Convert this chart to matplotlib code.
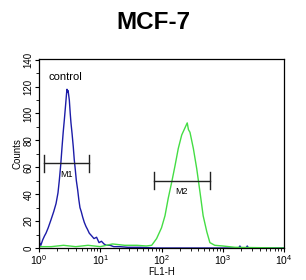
import numpy as np
import matplotlib
matplotlib.use("Agg")
import matplotlib.pyplot as plt
from matplotlib.ticker import LogLocator, MultipleLocator, FixedLocator

plt.rcParams['font.family'] = ['Liberation Sans', 'DejaVu Sans']
plt.rcParams['mathtext.fontset'] = 'custom'
plt.rcParams['mathtext.rm'] = 'Liberation Sans'
plt.rcParams['mathtext.it'] = 'Liberation Sans'

# control (blue) histogram: log10(FL1-H) vs counts
blue_log = [0.0, 0.01, 0.03, 0.06, 0.09, 0.114, 0.15, 0.196, 0.24, 0.278, 0.31, 0.331,
            0.355, 0.376, 0.395, 0.413, 0.43, 0.441, 0.45, 0.457, 0.465, 0.475, 0.495,
            0.51, 0.522, 0.54, 0.56, 0.575, 0.593, 0.61, 0.632, 0.65, 0.669, 0.69, 0.713,
            0.74, 0.767, 0.79, 0.821, 0.86, 0.898, 0.94, 0.98, 1.02, 1.061, 1.1, 1.16,
            1.22, 1.32, 1.45, 1.65, 1.9, 2.2, 2.6, 3.0, 3.26, 3.28, 3.3, 3.38, 3.40, 3.42,
            3.7, 4.0]
blue_cnt = [20, 4, 2, 6, 9, 11, 15, 21, 27, 33, 41, 50,
            62, 75, 86, 95, 104, 110, 115, 118, 116, 117, 110,
            100, 93, 85, 75, 66, 58, 50, 43, 36, 30, 27, 23,
            19, 16, 14, 11, 9, 7, 8, 4, 5, 3, 2, 2,
            1, 1, 0.5, 0.5, 0, 0, 0, 0, 0, 1.5, 0, 0, 1.5, 0,
            0, 0]

# sample (green) histogram
green_log = [0.0, 0.2, 0.4, 0.6, 0.8, 1.0, 1.2, 1.4, 1.6, 1.75, 1.84, 1.92, 2.0, 2.057,
             2.11, 2.167, 2.22, 2.274, 2.33, 2.38, 2.42, 2.44, 2.465, 2.52, 2.575, 2.63,
             2.68, 2.74, 2.79, 2.87, 3.0, 3.2, 3.5, 4.0]
green_cnt = [1, 1, 2, 1, 2, 1, 3, 2, 2, 1.5, 2, 7, 15, 24,
             37, 49, 61, 74, 84, 89, 93, 88, 86, 74, 59, 41,
             24, 12, 4, 2, 1.5, 0.5, 0.3, 0]

# marker gates: name, left, right, height
gate_names = ['M1', 'M2']
gate_left = [1.21, 75]
gate_right = [6.55, 620]
gate_y = [63, 50]

fig = plt.figure(figsize=(3.06, 2.80), dpi=100)
ax = fig.add_axes([39 / 306, 32 / 280, 245 / 306, 189 / 280])

ax.plot(np.power(10.0, blue_log), blue_cnt, color='#1c1ca8', lw=1.0)
ax.plot(np.power(10.0, green_log), green_cnt, color='#44dd44', lw=1.0)

for name, l, r, y in zip(gate_names, gate_left, gate_right, gate_y):
    ax.plot([l, r], [y, y], color='#222222', lw=1.0)
    ax.plot([l, l], [y - 6.5, y + 6.5], color='#222222', lw=1.0)
    ax.plot([r, r], [y - 6.5, y + 6.5], color='#222222', lw=1.0)
    ax.text(np.sqrt(l * r), y - 5, name, ha='center', va='top', fontsize=6.5)

ax.text(2.7, 127, 'control', ha='center', va='center', fontsize=8)

ax.set_xscale('log')
ax.set_xlim(1, 1e4)
ax.set_ylim(0, 140.5)
ax.xaxis.set_major_locator(FixedLocator([1, 10, 100, 1000, 10000]))
ax.xaxis.set_minor_locator(LogLocator(base=10, subs=np.arange(2, 10), numticks=20))
ax.yaxis.set_major_locator(MultipleLocator(20))
ax.yaxis.set_minor_locator(MultipleLocator(10))
ax.set_xticklabels([r'$10^0$', r'$10^1$', r'$10^2$', r'$10^3$', r'$10^4$'])
ax.tick_params(axis='x', which='major', labelsize=7.5, length=3, width=0.8,
               direction='out', pad=1)
ax.tick_params(axis='y', which='major', labelsize=7, length=3, width=0.8,
               direction='out', pad=1)
ax.tick_params(axis='both', which='minor', length=2, width=0.6, direction='out')
for lab in ax.get_yticklabels():
    lab.set_rotation(90)
    lab.set_va('center')
for sp in ax.spines.values():
    sp.set_linewidth(0.9)

ax.set_xlabel('FL1-H', fontsize=7, labelpad=0)
ax.set_ylabel('Counts', fontsize=7, labelpad=1)

fig.text(0.5, 0.92, 'MCF-7', ha='center', va='center', fontsize=17.5, fontweight='bold')

fig.savefig('out.png', dpi=100)
